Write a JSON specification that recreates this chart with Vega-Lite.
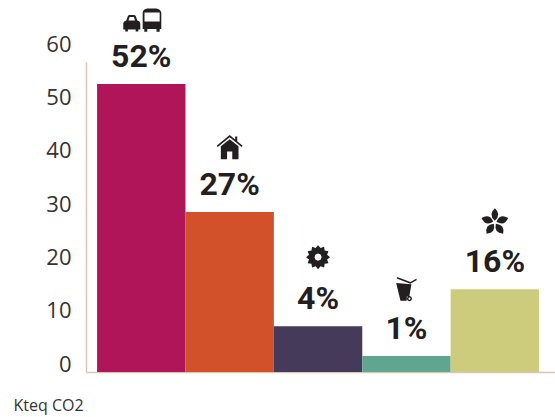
{"$schema":"https://vega.github.io/schema/vega-lite/v6.json","width":469,"height":320,"autosize":"none","padding":{"left":86,"top":52,"right":0,"bottom":45},"background":"white","config":{"view":{"stroke":null}},"data":{"values":[{"sector":"Transport","kteq":54,"share":"52%","colour":"Transport"},{"sector":"Bâtiment","kteq":30,"share":"27%","colour":"Bâtiment"},{"sector":"Industrie","kteq":8.6,"share":"4%","colour":"Industrie"},{"sector":"Déchets","kteq":3,"share":"1%","colour":"Déchets"},{"sector":"Agriculture","kteq":15.5,"share":"16%","colour":"Agriculture"}]},"encoding":{"x":{"field":"sector","type":"nominal","sort":null,"scale":{"paddingInner":0,"paddingOuter":0.153,"align":0.41},"axis":{"title":null,"labels":false,"ticks":false,"domainColor":"#d6c8b2","domainWidth":1.5}},"y":{"field":"kteq","type":"quantitative","scale":{"domain":[0,60],"nice":false},"axis":{"values":[0,10,20,30,40,50,60],"grid":false,"ticks":false,"domainColor":"#d6c8b2","domainWidth":1.5,"domainDash":[310,30],"labelFont":"Open Sans","labelFontSize":22,"labelColor":"#333333","labelPadding":15,"labelOffset":-8,"title":"Kteq CO2","titleFont":"Open Sans","titleFontSize":16,"titleFontWeight":"normal","titleColor":"#333333","titleAngle":0,"titleAlign":"left","titleBaseline":"middle","titleX":-73,"titleY":353}}},"layer":[{"mark":{"type":"bar"},"encoding":{"color":{"field":"colour","type":"nominal","sort":null,"scale":{"domain":["Transport","Bâtiment","Industrie","Déchets","Agriculture"],"range":["#b0155a","#d2502a","#463a5a","#5fa590","#cdcb7c"]},"legend":null}}},{"mark":{"type":"text","font":"Roboto","fontWeight":"bold","fontSize":32,"color":"#231f20","dy":-17.5,"baseline":"alphabetic"},"encoding":{"text":{"field":"share"}}},{"transform":[{"filter":"datum.sector==='Transport'"}],"mark":{"type":"point","filled":true,"opacity":1,"color":"#231f20","size":1600,"yOffset":-63.5,"shape":"M-.9,.45 L-.9,.12 Q-.85,.02 -.75,0 L-.68,-.2 Q-.65,-.27 -.58,-.27 L-.37,-.27 Q-.3,-.27 -.27,-.2 L-.2,0 Q-.08,.02 -.05,.12 L-.05,.45 L-.15,.45 L-.15,.55 L-.28,.55 L-.28,.45 L-.67,.45 L-.67,.55 L-.8,.55 L-.8,.45 Z M-.64,0 L-.31,0 L-.37,-.18 L-.58,-.18 Z M.07,.42 L.07,-.4 Q.1,-.58 .3,-.6 L.75,-.6 Q.95,-.58 1,-.4 L1,.42 L.92,.42 L.92,.56 L.76,.56 L.76,.42 L.3,.42 L.3,.56 L.15,.56 L.15,.42 Z M.16,.05 L.92,.05 L.92,-.4 L.16,-.4 Z"}},{"transform":[{"filter":"datum.sector==='Bâtiment'"}],"mark":{"type":"point","filled":true,"opacity":1,"color":"#231f20","size":676,"yOffset":-65,"shape":"M-1,-.1 L0,-.92 L.42,-.57 L.42,-.8 L.58,-.8 L.58,-.44 L1,-.1 L.92,0 L0,-.75 L-.92,0 Z M-.68,.95 L-.68,-.05 L0,-.6 L.68,-.05 L.68,.95 L.2,.95 L.2,.35 L-.2,.35 L-.2,.95 Z"}},{"transform":[{"filter":"datum.sector==='Industrie'"}],"mark":{"type":"point","filled":true,"opacity":1,"color":"#231f20","size":576,"yOffset":-69,"shape":"M1,0 L.753,.202 L.866,.5 L.552,.552 L.5,.866 L.202,.753 L0,1 L-.202,.753 L-.5,.866 L-.552,.552 L-.866,.5 L-.753,.202 L-1,0 L-.753,-.202 L-.866,-.5 L-.552,-.552 L-.5,-.866 L-.202,-.753 L0,-1 L.202,-.753 L.5,-.866 L.552,-.552 L.866,-.5 L.753,-.202 Z M.3,0 L.21,-.21 L0,-.3 L-.21,-.21 L-.3,0 L-.21,.21 L0,.3 L.21,.21 Z"}},{"transform":[{"filter":"datum.sector==='Déchets'"}],"mark":{"type":"point","filled":true,"opacity":1,"color":"#231f20","size":676,"yOffset":-68,"shape":"M-.72,-.85 L.31,-.47 L.75,-.72 L.8,-.62 L.3,-.33 L-.75,-.73 Z M-.79,-.38 L.38,-.28 L.22,.65 L.03,.65 L.02,.98 L-.46,.98 Z M.43,.82 L.37,.96 L.23,1.02 L.09,.96 L.03,.82 L.09,.68 L.23,.62 L.37,.68 Z M.33,.82 L.23,.72 L.13,.82 L.23,.92 Z"}},{"transform":[{"filter":"datum.sector==='Agriculture'"}],"mark":{"type":"point","filled":true,"opacity":1,"color":"#231f20","size":784,"yOffset":-67,"shape":"M0,-.12 Q-.5,-.55 0,-1 Q.5,-.55 0,-.12 Z M.114,-.037 Q.368,-.646 .951,-.309 Q.678,.306 .114,-.037 Z M.071,.097 Q.728,.151 .588,.809 Q-.082,.739 .071,.097 Z M-.071,.097 Q.082,.739 -.588,.809 Q-.728,.151 -.071,.097 Z M-.114,-.037 Q-.678,.306 -.951,-.309 Q-.368,-.646 -.114,-.037 Z"}}]}
